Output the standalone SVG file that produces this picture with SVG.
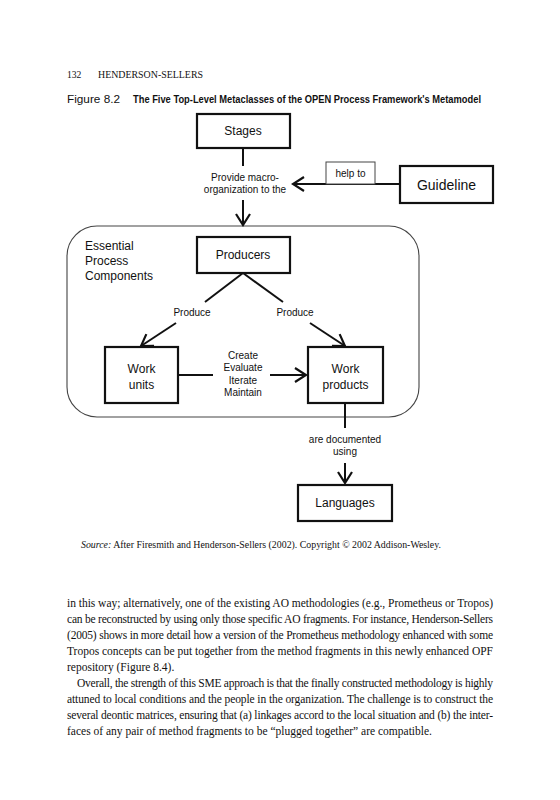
<svg xmlns="http://www.w3.org/2000/svg" width="560" height="800" viewBox="0 0 560 800">
<defs>
<marker id="arr" markerUnits="userSpaceOnUse" markerWidth="14" markerHeight="18" refX="12" refY="8" orient="auto" viewBox="0 0 14 16">
<path d="M1,1 L12,8 L1,15" fill="none" stroke="#111" stroke-width="2.2"/>
</marker>
</defs>
<style>
.box{fill:#fff;stroke:#111;stroke-width:2.2}
.lbl{font-family:"Liberation Sans",Arial,sans-serif;font-size:12px;fill:#111;text-anchor:middle}
.lft{font-family:"Liberation Sans",Arial,sans-serif;font-size:12px;fill:#111}
.sm{font-family:"Liberation Sans",Arial,sans-serif;font-size:10px;fill:#111;text-anchor:middle}
.ln{fill:none;stroke:#111;stroke-width:2}
.body{font-family:"Liberation Serif","Times New Roman",serif;font-size:11.5px;fill:#111}
.hdr{font-family:"Liberation Serif","Times New Roman",serif;font-size:9.6px;fill:#111}
.src{font-family:"Liberation Serif","Times New Roman",serif;font-size:9.8px;fill:#111}
</style>
<rect width="560" height="800" fill="#fff"/>
<text x="67" y="78" class="hdr">132</text>
<text x="98" y="78" class="hdr" textLength="105" lengthAdjust="spacingAndGlyphs">HENDERSON-SELLERS</text>
<text x="67" y="103" font-family="Liberation Sans,Arial,sans-serif" font-size="10" fill="#111" textLength="53" lengthAdjust="spacingAndGlyphs">Figure 8.2</text>
<text x="133" y="103" font-family="Liberation Sans,Arial,sans-serif" font-size="10" font-weight="bold" fill="#111" textLength="348" lengthAdjust="spacingAndGlyphs">The Five Top-Level Metaclasses of the OPEN Process Framework's Metamodel</text>

<g id="container">
<rect x="67" y="226" width="352" height="191" rx="30" ry="30" fill="none" stroke="#444" stroke-width="1.1"/>
<text x="85" y="250" class="lft">Essential</text>
<text x="85" y="265" class="lft">Process</text>
<text x="85" y="280" class="lft">Components</text>
</g>

<g id="connectors">
<line x1="243" y1="148" x2="243" y2="166" class="ln"/>
<line x1="243" y1="200" x2="243" y2="225" class="ln" marker-end="url(#arr)"/>
<text x="245" y="181" class="sm">Provide macro-</text>
<text x="245" y="193" class="sm">organization to the</text>
<line x1="400" y1="184" x2="293" y2="184" class="ln" marker-end="url(#arr)"/>
<rect x="326" y="162" width="49" height="22" fill="#fff" stroke="#444" stroke-width="1"/>
<text x="350.5" y="177" class="sm">help to</text>
<line x1="243" y1="273" x2="205" y2="302" class="ln"/>
<line x1="243" y1="273" x2="283" y2="302" class="ln"/>
<text x="192" y="316" class="sm">Produce</text>
<text x="295" y="316" class="sm">Produce</text>
<line x1="176" y1="323" x2="141" y2="346" class="ln" marker-end="url(#arr)"/>
<line x1="310" y1="323" x2="345" y2="346" class="ln" marker-end="url(#arr)"/>
<line x1="178" y1="375" x2="213" y2="375" class="ln"/>
<line x1="270" y1="375" x2="306" y2="375" class="ln" marker-end="url(#arr)"/>
<text x="243" y="359" class="sm">Create</text>
<text x="243" y="371" class="sm">Evaluate</text>
<text x="243" y="384" class="sm">Iterate</text>
<text x="243" y="396" class="sm">Maintain</text>
<line x1="345" y1="403" x2="345" y2="428" class="ln"/>
<text x="345" y="443" class="sm">are documented</text>
<text x="345" y="455" class="sm">using</text>
<line x1="345" y1="463" x2="345" y2="483" class="ln" marker-end="url(#arr)"/>
</g>

<g id="stages">
<rect x="197" y="114" width="93" height="34" class="box"/>
<text x="243" y="135" class="lbl">Stages</text>
</g>
<g id="guideline">
<rect x="400" y="166" width="93" height="37" class="box"/>
<text x="446.5" y="190" class="lbl" style="font-size:14px">Guideline</text>
</g>
<g id="producers">
<rect x="197" y="237" width="93" height="36" class="box"/>
<text x="243" y="259" class="lbl">Producers</text>
</g>
<g id="work-units">
<rect x="105" y="347" width="73" height="56" class="box"/>
<text x="141.5" y="373" class="lbl">Work</text>
<text x="141.5" y="389" class="lbl">units</text>
</g>
<g id="work-products">
<rect x="308" y="347" width="75" height="56" class="box"/>
<text x="345.5" y="373" class="lbl">Work</text>
<text x="345.5" y="389" class="lbl">products</text>
</g>
<g id="languages">
<rect x="298" y="485" width="94" height="36" class="box"/>
<text x="345" y="507" class="lbl">Languages</text>
</g>

<text x="81" y="548" class="src" textLength="360" lengthAdjust="spacingAndGlyphs"><tspan font-style="italic">Source:</tspan> After Firesmith and Henderson-Sellers (2002). Copyright © 2002 Addison-Wesley.</text>

<g class="body">
<text x="67" y="607" textLength="426" lengthAdjust="spacing">in this way; alternatively, one of the existing AO methodologies (e.g., Prometheus or Tropos)</text>
<text x="67" y="623" textLength="426" lengthAdjust="spacing">can be reconstructed by using only those specific AO fragments. For instance, Henderson-Sellers</text>
<text x="67" y="639" textLength="426" lengthAdjust="spacing">(2005) shows in more detail how a version of the Prometheus methodology enhanced with some</text>
<text x="67" y="655" textLength="426" lengthAdjust="spacing">Tropos concepts can be put together from the method fragments in this newly enhanced OPF</text>
<text x="67" y="671">repository (Figure 8.4).</text>
<text x="77" y="687" textLength="416" lengthAdjust="spacing">Overall, the strength of this SME approach is that the finally constructed methodology is highly</text>
<text x="67" y="703" textLength="426" lengthAdjust="spacing">attuned to local conditions and the people in the organization. The challenge is to construct the</text>
<text x="67" y="719" textLength="426" lengthAdjust="spacing">several deontic matrices, ensuring that (a) linkages accord to the local situation and (b) the inter-</text>
<text x="67" y="735">faces of any pair of method fragments to be “plugged together” are compatible.</text>
</g>
</svg>
